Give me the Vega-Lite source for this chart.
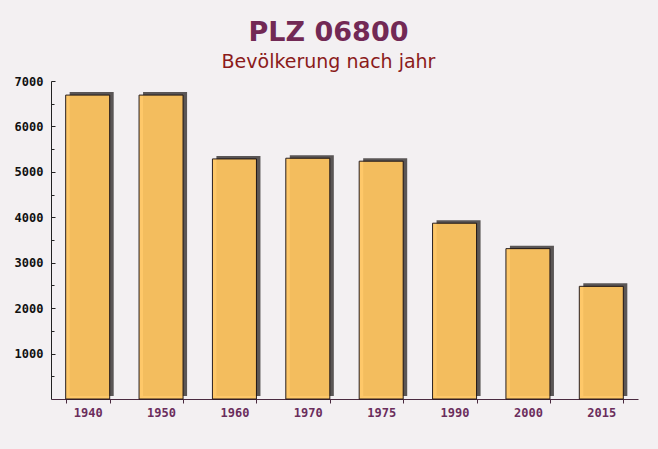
{
  "$schema": "https://vega.github.io/schema/vega-lite/v6.json",
  "width": 587,
  "height": 318,
  "autosize": "none",
  "padding": {"left": 51, "top": 81, "right": 20, "bottom": 50},
  "background": "#f3f0f2",
  "title": {
    "text": "PLZ 06800",
    "subtitle": "Bevölkerung nach jahr",
    "anchor": "middle",
    "dx": -16,
    "offset": 2,
    "font": "DejaVu Sans",
    "fontSize": 27,
    "fontWeight": "bold",
    "color": "#722955",
    "subtitleFont": "DejaVu Sans",
    "subtitleFontSize": 19,
    "subtitleColor": "#8b1a1a",
    "subtitlePadding": 6
  },
  "data": {
    "values": [
      {"jahr": "1940", "einwohner": 6690},
      {"jahr": "1950", "einwohner": 6690},
      {"jahr": "1960", "einwohner": 5285},
      {"jahr": "1970", "einwohner": 5300},
      {"jahr": "1975", "einwohner": 5235},
      {"jahr": "1990", "einwohner": 3870},
      {"jahr": "2000", "einwohner": 3310},
      {"jahr": "2015", "einwohner": 2480}
    ]
  },
  "config": {
    "view": {"stroke": null},
    "axis": {"grid": false}
  },
  "encoding": {
    "x": {
      "field": "jahr",
      "type": "nominal",
      "sort": null,
      "scale": {"paddingInner": 0.4, "paddingOuter": 0.2},
      "axis": {
        "title": null,
        "labelAngle": 0,
        "labelFont": "DejaVu Sans Mono",
        "labelFontWeight": "bold",
        "labelFontSize": 12,
        "labelColor": "#6b2d5c",
        "labelPadding": 4,
        "ticks": true,
        "tickBand": "extent",
        "tickSize": 4,
        "tickWidth": 1,
        "tickColor": "#4a2a40",
        "domainColor": "#4a2a40"
      }
    }
  },
  "layer": [
    {
      "mark": {"type": "bar", "color": "#5a5656", "xOffset": 4, "x2Offset": 4, "yOffset": -3},
      "encoding": {
        "y": {
          "field": "einwohner",
          "type": "quantitative",
          "scale": {"domain": [0, 7000], "nice": false},
          "axis": {
            "title": null,
            "orient": "left",
            "values": [500, 1500, 2500, 3500, 4500, 5500, 6500],
            "labels": false,
            "domain": false,
            "tickSize": -3,
            "tickColor": "#222222"
          }
        }
      }
    },
    {
      "mark": {"type": "bar", "color": "#ffc55f", "opacity": 0.93, "stroke": "#1a1010", "strokeWidth": 1},
      "encoding": {
        "y": {
          "field": "einwohner",
          "type": "quantitative",
          "scale": {"domain": [0, 7000], "nice": false},
          "axis": {
            "title": null,
            "orient": "left",
            "values": [1000, 2000, 3000, 4000, 5000, 6000, 7000],
            "format": "d",
            "labelFont": "DejaVu Sans Mono",
            "labelFontWeight": "bold",
            "labelFontSize": 12,
            "labelColor": "#111111",
            "labelPadding": 12,
            "tickSize": -4,
            "tickColor": "#222222",
            "domainColor": "#222222"
          }
        }
      }
    }
  ],
  "resolve": {"axis": {"y": "independent"}}
}
